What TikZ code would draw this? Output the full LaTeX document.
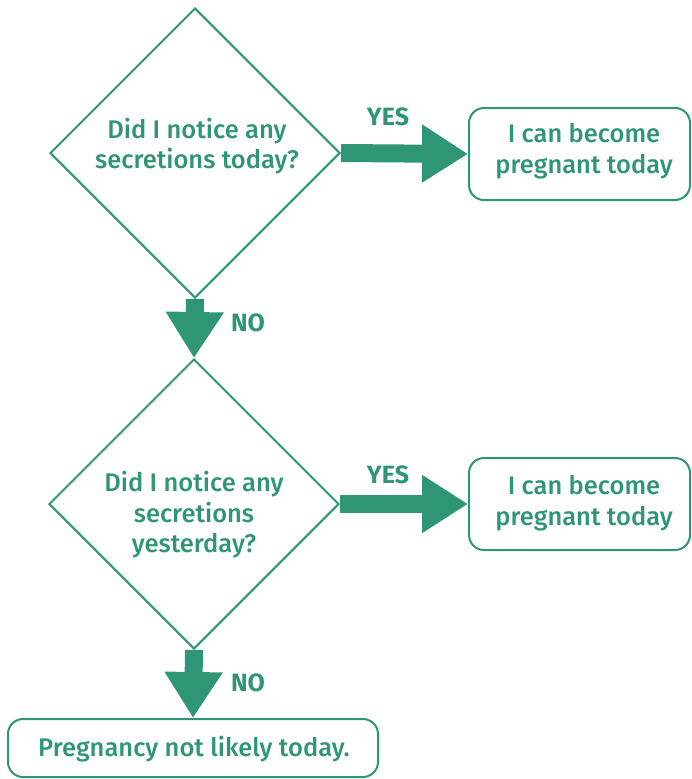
\documentclass[tikz,border=0pt]{standalone}
\usepackage{fontspec}
\setmainfont{Fira Sans}[UprightFont=* Medium, BoldFont=* Bold]
\usetikzlibrary{shapes.geometric,arrows.meta}
\definecolor{fgreen}{RGB}{46,150,118}
\tikzset{
  dia/.style={diamond, draw=fgreen, line width=2pt, minimum width=290pt, minimum height=290pt, inner sep=0pt},
  rbox/.style={draw=fgreen, line width=2pt, rounded corners=15pt, inner sep=0pt},
  txt/.style={text=fgreen, font=\fontsize{25.5}{30.5}\selectfont, align=center},
  lbl/.style={text=fgreen, font=\fontsize{25}{28}\selectfont\bfseries},
  bigarrow/.style={draw=fgreen, line width=18pt, -{Triangle[length=46pt,width=55pt,fill=fgreen]}, shorten >=0pt}
}
\begin{document}
\begin{tikzpicture}[x=1pt,y=-1pt]
\useasboundingbox (0,0) rectangle (692,779);
% diamonds
\node[dia] (d1) at (195,153) {};
\node[txt] (t1) at (197,146) {Did I notice any\\secretions today?};
\node[dia] (d2) at (194,504) {};
\node[txt] (t2) at (194,515) {Did I notice any\\secretions\\yesterday?};
% boxes
\node[rbox, minimum width=221pt, minimum height=92pt] (b1) at (579.5,154) {};
\node[txt] (tb1) at (584,151) {I can become\\pregnant today};
\node[rbox, minimum width=221pt, minimum height=92pt] (b2) at (579.5,504) {};
\node[txt] (tb2) at (584,503) {I can become\\pregnant today};
\node[rbox, minimum width=370pt, minimum height=58pt] (b3) at (193,748) {};
\node[txt] (tb3) at (194,749) {Pregnancy not likely today.};
% arrows
\draw[bigarrow] (d1.east) -- (b1.west);
\draw[bigarrow] (d2.east) -- (b2.west);
\draw[bigarrow] (d1.south) -- (d2.north);
\draw[bigarrow] (d2.south) -- (b3.north);
% labels
\node[lbl] (y1) at (388,117) {YES};
\node[lbl] (y2) at (388,475) {YES};
\node[lbl] (n1) at (248,323) {NO};
\node[lbl] (n2) at (248,683) {NO};
\end{tikzpicture}
\end{document}
